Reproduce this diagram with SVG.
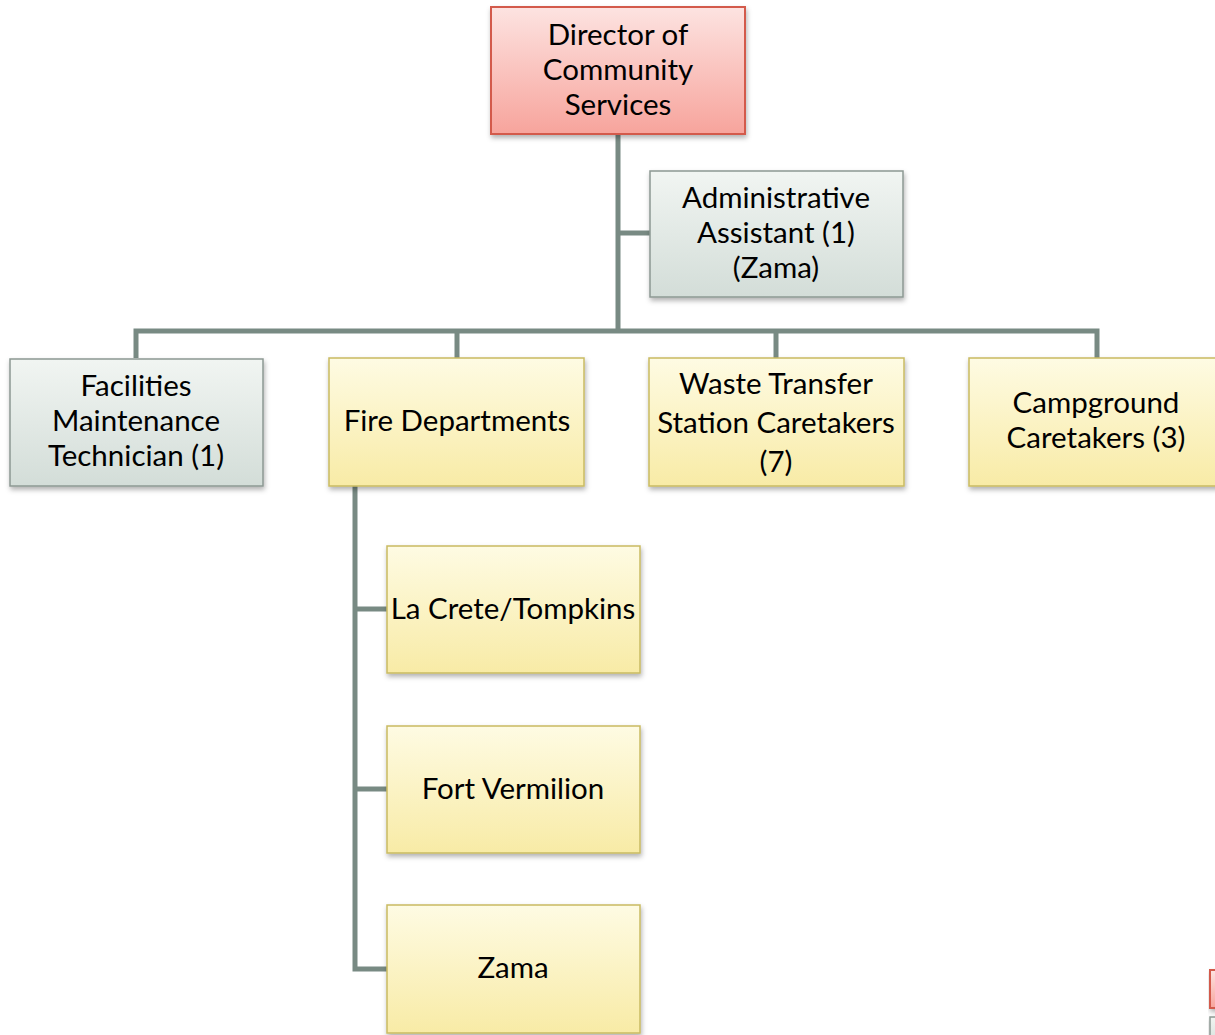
<svg xmlns="http://www.w3.org/2000/svg" width="1215" height="1035" viewBox="0 0 1215 1035">
<defs>
<linearGradient id="gRed" x1="0" y1="0" x2="0" y2="1"><stop offset="0" stop-color="#fde3e1"/><stop offset="1" stop-color="#f7a49c"/></linearGradient>
<linearGradient id="gGrey" x1="0" y1="0" x2="0" y2="1"><stop offset="0" stop-color="#f1f5f2"/><stop offset="1" stop-color="#d3ddd8"/></linearGradient>
<linearGradient id="gYel" x1="0" y1="0" x2="0" y2="1"><stop offset="0" stop-color="#fefbe3"/><stop offset="1" stop-color="#f8eba6"/></linearGradient>
<filter id="sh" x="-10%" y="-10%" width="125%" height="130%"><feDropShadow dx="1" dy="3" stdDeviation="2.5" flood-color="#000" flood-opacity="0.3"/></filter>
</defs>
<style>
.red{fill:url(#gRed);stroke:#d35a4c;stroke-width:2;filter:url(#sh)}
.grey{fill:url(#gGrey);stroke:#8c9893;stroke-width:1.5;filter:url(#sh)}
.yel{fill:url(#gYel);stroke:#c9bb62;stroke-width:1.5;filter:url(#sh)}
.con{fill:none;stroke:#788a83;stroke-width:5}
text{font-family:Lato,"Open Sans",sans-serif;font-size:29.5px;fill:#000;text-anchor:middle}
</style>
<rect width="1215" height="1035" fill="#fff"/>
<g id="connectors">
<path class="con" d="M618 134V331M618 233H650M136 358V331H1097V358M457 331V358M776 331V358"/>
<path class="con" d="M355 486V969H387M355 609H387M355 789H387"/>
</g>
<g id="director"><rect class="red" x="491" y="7" width="254" height="127"/>
<text x="618" y="45">Director of</text><text x="618" y="80">Community</text><text x="618" y="115">Services</text></g>
<g id="admin"><rect class="grey" x="650" y="171" width="253" height="126"/>
<text x="776" y="208">Administrative</text><text x="776" y="243">Assistant (1)</text><text x="776" y="278">(Zama)</text></g>
<g id="facilities"><rect class="grey" x="10" y="359" width="253" height="127"/>
<text x="136" y="396">Facilities</text><text x="136" y="431">Maintenance</text><text x="136" y="466">Technician (1)</text></g>
<g id="fire"><rect class="yel" x="329" y="358" width="255" height="128"/>
<text x="457" y="431">Fire Departments</text></g>
<g id="waste"><rect class="yel" x="649" y="358" width="255" height="128"/>
<text x="776" y="394">Waste Transfer</text><text x="776" y="433">Station Caretakers</text><text x="776" y="472">(7)</text></g>
<g id="campground"><rect class="yel" x="969" y="358" width="255" height="128"/>
<text x="1096" y="413">Campground</text><text x="1096" y="448">Caretakers (3)</text></g>
<g id="lacrete"><rect class="yel" x="387" y="546" width="253" height="127"/>
<text x="513" y="619">La Crete/Tompkins</text></g>
<g id="fortvermilion"><rect class="yel" x="387" y="726" width="253" height="127"/>
<text x="513" y="799">Fort Vermilion</text></g>
<g id="zama"><rect class="yel" x="387" y="905" width="253" height="128"/>
<text x="513" y="978">Zama</text></g>
<g id="fragments">
<rect class="red" x="1210" y="970" width="20" height="38"/>
<rect class="grey" x="1210" y="1017" width="20" height="30"/>
</g>
</svg>
